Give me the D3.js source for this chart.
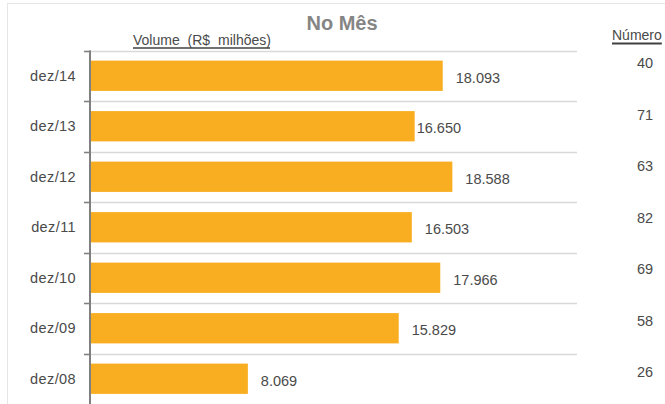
<!DOCTYPE html>
<html>
<head>
<meta charset="utf-8">
<script src="https://cdn.jsdelivr.net/npm/d3@7"></script>
<style>
  body { margin: 0; background: #fff; }
  svg text { font-family: "Liberation Sans", Arial, sans-serif; }
</style>
</head>
<body>
<svg id="chart-svg"></svg>
<script>
// data -------------------------------------------------------------
let categories = ["dez/14", "dez/13", "dez/12", "dez/11", "dez/10", "dez/09", "dez/08"];
let volume = [18093, 16650, 18588, 16503, 17966, 15829, 8069];
let numero = [40, 71, 63, 82, 69, 58, 26];
let volumeLabels = ["18.093", "16.650", "18.588", "16.503", "17.966", "15.829", "8.069"];

// svg spec ---------------------------------------------------------
let width = 665;
let height = 404;
let plot = {left: 91, right: 577, top: 50.5, bottom: 404};

let barColor = "#F9AD21";
let textColor = "#4a4a4a";

let svg = d3.select("#chart-svg")
  .attr("width", width)
  .attr("height", height);

// frame
svg.append("rect")
  .attr("x", 7.5).attr("y", 3.5)
  .attr("width", width).attr("height", height)
  .attr("fill", "none")
  .attr("stroke", "#e6e6e6");

let xScale = d3.scaleLinear()
  .domain([0, 25000])
  .range([plot.left, plot.right]);

let yScale = d3.scaleBand()
  .domain(categories)
  .range([plot.top, plot.bottom])
  .paddingInner(0.4)
  .paddingOuter(0.2);

let numScale = d3.scalePoint()
  .domain(categories)
  .range([63, 372]);

// gridlines at band edges
let edges = categories.map(c => yScale(c) - yScale.step() * 0.2);

svg.append("g")
  .selectAll("line")
  .data(edges)
  .join("line")
  .attr("x1", plot.left - 6)
  .attr("x2", plot.right)
  .attr("y1", d => Math.round(d) + 0.5)
  .attr("y2", d => Math.round(d) + 0.5)
  .attr("stroke", "#d9d9d9")
  .attr("stroke-width", 1.5);

// tick marks on axis
svg.append("g")
  .selectAll("line")
  .data(edges)
  .join("line")
  .attr("x1", plot.left - 7)
  .attr("x2", plot.left)
  .attr("y1", d => Math.round(d) + 0.5)
  .attr("y2", d => Math.round(d) + 0.5)
  .attr("stroke", "#808080")
  .attr("stroke-width", 1.5);

// bars
svg.append("g")
  .selectAll("rect")
  .data(categories)
  .join("rect")
  .attr("x", xScale(0))
  .attr("y", d => yScale(d))
  .attr("width", (d, i) => xScale(volume[i]) - xScale(0))
  .attr("height", yScale.bandwidth())
  .attr("fill", barColor);

// axis line
svg.append("line")
  .attr("x1", plot.left - 1).attr("x2", plot.left - 1)
  .attr("y1", plot.top).attr("y2", plot.bottom)
  .attr("stroke", "#808080")
  .attr("stroke-width", 2);

// category labels
svg.append("g")
  .selectAll("text")
  .data(categories)
  .join("text")
  .attr("x", 76)
  .attr("y", d => yScale(d) + yScale.bandwidth() / 2)
  .attr("dy", "0.35em")
  .attr("text-anchor", "end")
  .attr("font-size", 14.5)
  .attr("letter-spacing", 0.4)
  .attr("fill", textColor)
  .text(d => d);

// value labels
svg.append("g")
  .selectAll("text")
  .data(categories)
  .join("text")
  .attr("x", (d, i) => xScale(volume[i]) + (i === 1 ? 2 : 13))
  .attr("y", d => yScale(d) + yScale.bandwidth() / 2 + 2)
  .attr("dy", "0.35em")
  .attr("font-size", 14.5)
  .attr("fill", textColor)
  .text((d, i) => volumeLabels[i]);

// numero column
svg.append("g")
  .selectAll("text")
  .data(categories)
  .join("text")
  .attr("x", 645)
  .attr("y", d => numScale(d))
  .attr("dy", "0.35em")
  .attr("text-anchor", "middle")
  .attr("font-size", 14.5)
  .attr("fill", textColor)
  .text((d, i) => numero[i]);

// titles
svg.append("text")
  .attr("x", 342).attr("y", 30)
  .attr("text-anchor", "middle")
  .attr("font-size", 20)
  .attr("font-weight", "bold")
  .attr("fill", "#858585")
  .text("No Mês");

let volTitle = svg.append("text")
  .attr("x", 133).attr("y", 44.5)
  .attr("font-size", 14)
  .attr("word-spacing", 4)
  .attr("fill", textColor)
  .text("Volume (R$ milhões)");

svg.append("line")
  .attr("x1", 133).attr("x2", 270)
  .attr("y1", 48).attr("y2", 48)
  .attr("stroke", "#404040").attr("stroke-width", 1.5);

let numTitle = svg.append("text")
  .attr("x", 612).attr("y", 40)
  .attr("font-size", 14)
  .attr("fill", textColor)
  .text("Número");

svg.append("line")
  .attr("x1", 612).attr("x2", 612 + numTitle.node().getComputedTextLength())
  .attr("y1", 43.5).attr("y2", 43.5)
  .attr("stroke", "#404040").attr("stroke-width", 2);
</script>
</body>
</html>
